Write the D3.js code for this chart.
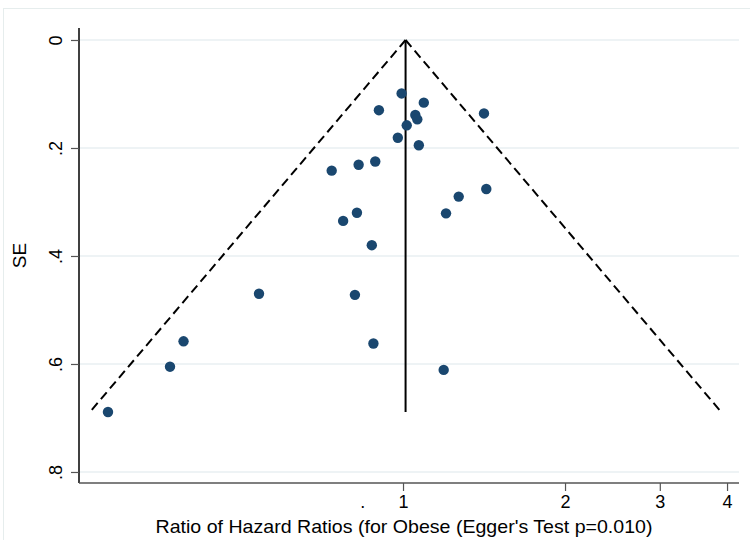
<!DOCTYPE html>
<html>
<head>
<meta charset="utf-8">
<script src="https://cdn.jsdelivr.net/npm/d3@7"></script>
<style>
  body { margin: 0; background: #fff; }
  svg { display: block; font-family: "Liberation Sans", Arial, sans-serif; }
</style>
</head>
<body>
<svg id="chart" width="750" height="540"></svg>
<script>
// Study-level ratio of hazard ratios and their standard errors
const ratios = [0.994, 1.093, 0.902, 1.414, 1.054, 1.063, 1.016, 0.978, 1.070, 0.888,
                0.827, 0.737, 1.428, 1.269, 1.202, 0.821, 0.774, 0.875, 0.540, 0.814,
                0.391, 0.881, 0.369, 1.190, 0.283];
const stdErrs = [0.099, 0.116, 0.130, 0.136, 0.139, 0.147, 0.158, 0.181, 0.195, 0.225,
                 0.231, 0.242, 0.276, 0.290, 0.321, 0.320, 0.335, 0.380, 0.470, 0.472,
                 0.558, 0.562, 0.605, 0.611, 0.689];
// Pooled (fixed-effect) estimate
const pooled = 1.011;

// Axis ticks
const xTickValues = [0.84, 1, 2, 3, 4];
const xTickLabels = [".", "1", "2", "3", "4"];
const yTickValues = [0, 0.2, 0.4, 0.6, 0.8];
const yTickLabels = ["0", ".2", ".4", ".6", ".8"];

const xTitle = "Ratio of Hazard Ratios (for Obese (Egger's Test p=0.010)";
const yTitle = "SE";

const svg = d3.select("#chart");
const plotL = 79, plotR = 739, plotT = 28, plotB = 483;

const x = d3.scaleLog().domain([0.25, 4.21]).range([plotL, plotR]);
const y = d3.scaleLinear().domain([-0.0222, 0.8204]).range([plotT, plotB]);

// outer graph frame
svg.append("rect")
  .attr("x", 3.5).attr("y", 8.5).attr("width", 770).attr("height", 560)
  .attr("fill", "none").attr("stroke", "#e6eded").attr("stroke-width", 1);

// horizontal grid
svg.append("g").selectAll("line").data(yTickValues).join("line")
  .attr("x1", plotL).attr("x2", plotR)
  .attr("y1", d => y(d)).attr("y2", d => y(d))
  .attr("stroke", "#e8eff2").attr("stroke-width", 1.5);

// funnel: pseudo 95% limits
const seMax = d3.max(stdErrs);
const lp = Math.log(pooled);
const lower = Math.exp(lp - 1.96 * seMax);
const upper = Math.exp(lp + 1.96 * seMax);

const dashed = svg.append("g")
  .attr("fill", "none").attr("stroke", "#000").attr("stroke-width", 2)
  .attr("stroke-dasharray", "9,5");
dashed.append("line")
  .attr("x1", x(pooled)).attr("y1", y(0)).attr("x2", x(lower)).attr("y2", y(seMax));
dashed.append("line")
  .attr("x1", x(pooled)).attr("y1", y(0)).attr("x2", x(upper)).attr("y2", y(seMax));

svg.append("line")
  .attr("x1", x(pooled)).attr("x2", x(pooled))
  .attr("y1", y(0)).attr("y2", y(seMax))
  .attr("stroke", "#000").attr("stroke-width", 2);

// study points
svg.append("g").selectAll("circle").data(ratios).join("circle")
  .attr("cx", d => x(d))
  .attr("cy", (d, i) => y(stdErrs[i]))
  .attr("r", 5.2)
  .attr("fill", "#1a476f");

// y axis
const yAxis = d3.axisLeft(y)
  .tickValues(yTickValues)
  .tickFormat((d, i) => yTickLabels[i])
  .tickSize(8).tickPadding(0).tickSizeOuter(0);
const gy = svg.append("g").attr("transform", `translate(${plotL},0)`).call(yAxis);
gy.select(".domain").attr("stroke", "#000").attr("stroke-width", 1.5)
  .attr("d", `M0,${plotT}V${plotB}`);
gy.selectAll(".tick line").attr("stroke", "#555").attr("stroke-width", 1.2);
gy.selectAll(".tick text")
  .attr("font-size", 18).attr("fill", "#000")
  .attr("text-anchor", "middle")
  .attr("x", null).attr("dy", null)
  .attr("transform", "translate(-23,0) rotate(-90)")
  .attr("dominant-baseline", "central");

// x axis
const xAxis = d3.axisBottom(x)
  .tickValues(xTickValues)
  .tickFormat((d, i) => xTickLabels[i])
  .tickSize(8).tickPadding(4).tickSizeOuter(0);
const gx = svg.append("g").attr("transform", `translate(0,${plotB})`).call(xAxis);
gx.select(".domain").attr("stroke", "#555").attr("stroke-width", 1.5)
  .attr("d", `M${plotL},0H${plotR}`);
gx.selectAll(".tick line")
  .attr("stroke", "#555").attr("stroke-width", 1.2)
  .attr("opacity", (d, i) => xTickLabels[i] === "." ? 0 : 1);
gx.selectAll(".tick text").attr("font-size", 18).attr("fill", "#000");

// titles
svg.append("text")
  .attr("x", 404).attr("y", 533)
  .attr("text-anchor", "middle").attr("font-size", 19)
  .attr("textLength", 497).attr("lengthAdjust", "spacingAndGlyphs")
  .text(xTitle);

svg.append("text")
  .attr("transform", `translate(26,${(plotT + plotB) / 2}) rotate(-90)`)
  .attr("text-anchor", "middle").attr("font-size", 19)
  .text(yTitle);
</script>
</body>
</html>
